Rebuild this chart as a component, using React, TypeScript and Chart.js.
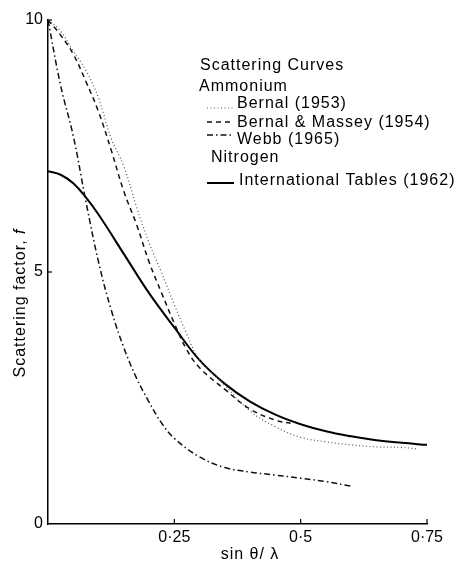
import React, { useEffect, useRef } from 'react';
import { Chart, registerables } from 'chart.js';

Chart.register(...registerables);

// International Tables (1962), Nitrogen
const xIntl = [0, 0.025, 0.05, 0.075, 0.1, 0.15, 0.2, 0.25, 0.3, 0.35, 0.4, 0.45, 0.5, 0.55, 0.6, 0.65, 0.7, 0.75];
const yIntl = [7.0, 6.93, 6.76, 6.48, 6.14, 5.36, 4.58, 3.9, 3.25, 2.78, 2.43, 2.17, 1.98, 1.84, 1.74, 1.66, 1.61, 1.57];

// Bernal (1953), Ammonium
const xBernal = [0, 0.025, 0.05, 0.075, 0.1, 0.125, 0.15, 0.175, 0.2, 0.225, 0.25, 0.275, 0.3, 0.35, 0.4, 0.45, 0.5, 0.55, 0.6, 0.65, 0.7, 0.73];
const yBernal = [10.0, 9.78, 9.38, 9.0, 8.45, 7.65, 7.1, 6.3, 5.58, 4.98, 4.35, 3.76, 3.26, 2.75, 2.24, 1.93, 1.72, 1.63, 1.57, 1.53, 1.52, 1.49];

// Bernal & Massey (1954), Ammonium
const xMassey = [0, 0.025, 0.05, 0.075, 0.1, 0.125, 0.15, 0.175, 0.2, 0.225, 0.25, 0.275, 0.3, 0.35, 0.4, 0.45, 0.48];
const yMassey = [10.0, 9.7, 9.32, 8.78, 8.18, 7.42, 6.6, 5.95, 5.2, 4.58, 3.98, 3.45, 3.1, 2.67, 2.28, 2.06, 2.0];

// Webb (1965), Ammonium
const xWebb = [0, 0.025, 0.05, 0.075, 0.1, 0.125, 0.15, 0.175, 0.2, 0.225, 0.25, 0.3, 0.35, 0.4, 0.45, 0.5, 0.55, 0.6];
const yWebb = [10.0, 8.7, 7.7, 6.4, 5.2, 4.25, 3.5, 2.9, 2.42, 2.0, 1.7, 1.33, 1.12, 1.03, 0.97, 0.91, 0.84, 0.75];

const xTickValues = [0.25, 0.5, 0.75];
const xTickLabels = ['0·25', '0·5', '0·75'];
const yTickValues = [0, 5, 10];
const yTickLabels = ['0', '5', '10'];

const legendTitle = 'Scattering Curves';
const groupAmmonium = 'Ammonium';
const groupNitrogen = 'Nitrogen';
const seriesNames = ['Bernal (1953)', 'Bernal & Massey (1954)', 'Webb (1965)', 'International Tables (1962)'];
const xTitle = 'sin θ/ λ';
const yTitleMain = 'Scattering factor, ';
const yTitleItalic = 'f';

const FAMILY = '"Liberation Sans", Arial, Helvetica, sans-serif';

const pts = (xs: number[], ys: number[]) => xs.map((x, i) => ({ x, y: ys[i] }));

export default function App() {
  const ref = useRef<HTMLCanvasElement>(null);

  useEffect(() => {
    const canvas = ref.current!;

    const annot = {
      id: 'annot',
      afterDraw(chart: any) {
        const ctx = chart.ctx as CanvasRenderingContext2D;
        const xs = chart.scales.x;
        const ys = chart.scales.y;
        const area = chart.chartArea;
        ctx.save();
        // inward tick marks
        ctx.strokeStyle = '#000';
        ctx.lineWidth = 1.2;
        ctx.setLineDash([]);
        xTickValues.forEach((v) => {
          const px = xs.getPixelForValue(v);
          ctx.beginPath();
          ctx.moveTo(px, area.bottom);
          ctx.lineTo(px, area.bottom - 5);
          ctx.stroke();
        });
        yTickValues.forEach((v) => {
          if (v === 0) return;
          const py = ys.getPixelForValue(v);
          ctx.beginPath();
          ctx.moveTo(area.left, py);
          ctx.lineTo(area.left + 4, py);
          ctx.stroke();
        });

        ctx.fillStyle = '#000';
        (ctx as any).letterSpacing = '1px';
        ctx.font = `16px ${FAMILY}`;
        ctx.textBaseline = 'alphabetic';
        ctx.textAlign = 'left';

        // legend block
        ctx.fillText(legendTitle, 200, 70);
        ctx.fillText(groupAmmonium, 199, 91);
        ctx.fillText(groupNitrogen, 211, 162);
        const rows = [
          { ds: 0, y: 108, ly: 108 },
          { ds: 1, y: 127, ly: 122 },
          { ds: 2, y: 144, ly: 135 },
          { ds: 3, y: 185, ly: 183 },
        ];
        rows.forEach((r) => {
          const d = chart.data.datasets[r.ds];
          ctx.save();
          ctx.strokeStyle = d.borderColor;
          ctx.lineWidth = d.borderWidth;
          ctx.setLineDash(d.borderDash || []);
          ctx.beginPath();
          ctx.moveTo(207, r.ly);
          ctx.lineTo(234, r.ly);
          ctx.stroke();
          ctx.restore();
          ctx.fillText(seriesNames[r.ds], r.ds === 3 ? 239 : 237, r.y);
        });

        // x title
        ctx.textAlign = 'center';
        ctx.fillText(xTitle, 250, 559);

        // y title (rotated)
        ctx.save();
        ctx.translate(25, 303);
        ctx.rotate(-Math.PI / 2);
        ctx.textAlign = 'left';
        const wMain = ctx.measureText(yTitleMain).width;
        ctx.font = `italic 16px ${FAMILY}`;
        const wIt = ctx.measureText(yTitleItalic).width;
        const start = -(wMain + wIt) / 2;
        ctx.font = `16px ${FAMILY}`;
        ctx.fillText(yTitleMain, start, 0);
        ctx.font = `italic 16px ${FAMILY}`;
        ctx.fillText(yTitleItalic, start + wMain, 0);
        ctx.restore();

        ctx.restore();
      },
    };

    const common = { pointRadius: 0, fill: false, tension: 0.4 };

    const chart = new Chart(canvas, {
      type: 'line',
      data: {
        datasets: [
          { ...common, label: seriesNames[0], data: pts(xBernal, yBernal), borderColor: '#555', borderWidth: 1.2, borderDash: [1, 2.5] },
          { ...common, label: seriesNames[1], data: pts(xMassey, yMassey), borderColor: '#111', borderWidth: 1.5, borderDash: [5, 4] },
          { ...common, label: seriesNames[2], data: pts(xWebb, yWebb), borderColor: '#111', borderWidth: 1.5, borderDash: [6, 3, 1.5, 3] },
          { ...common, label: seriesNames[3], data: pts(xIntl, yIntl), borderColor: '#000', borderWidth: 2, borderDash: [] },
        ],
      },
      options: {
        responsive: false,
        animation: false,
        layout: { padding: { top: 20, right: 31, left: 0, bottom: 0 } },
        plugins: { legend: { display: false }, tooltip: { enabled: false } },
        scales: {
          x: {
            type: 'linear',
            min: 0,
            max: 0.75,
            afterBuildTicks: (s: any) => {
              s.ticks = xTickValues.map((v) => ({ value: v }));
            },
            afterFit: (s: any) => {
              s.height = 37;
            },
            ticks: {
              callback: (_v: any, i: number) => xTickLabels[i],
              color: '#000',
              font: { family: FAMILY, size: 16 },
              padding: 4,
              maxRotation: 0,
              autoSkip: false,
            },
            grid: { display: false, drawTicks: false },
            border: { display: true, color: '#000', width: 1.5 },
          },
          y: {
            type: 'linear',
            min: 0,
            max: 10,
            afterBuildTicks: (s: any) => {
              s.ticks = yTickValues.map((v) => ({ value: v }));
            },
            afterFit: (s: any) => {
              s.width = 48;
            },
            ticks: {
              callback: (_v: any, i: number) => yTickLabels[i],
              color: '#000',
              font: { family: FAMILY, size: 16 },
              padding: 5,
              autoSkip: false,
            },
            grid: { display: false, drawTicks: false },
            border: { display: true, color: '#000', width: 1.5 },
          },
        },
      },
      plugins: [annot],
    } as any);

    return () => chart.destroy();
  }, []);

  return (
    <canvas
      ref={ref}
      width={458}
      height={561}
      style={{ position: 'fixed', left: 0, top: 0, width: 458, height: 561, background: '#fff' }}
    />
  );
}
